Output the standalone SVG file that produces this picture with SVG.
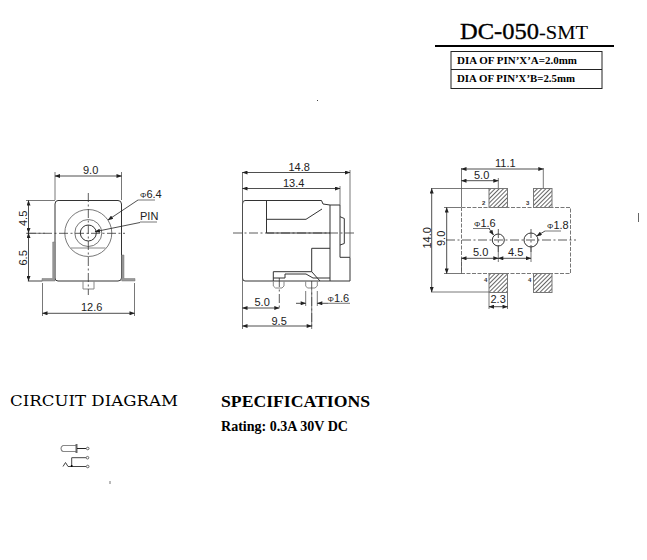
<svg xmlns="http://www.w3.org/2000/svg" width="647" height="560" viewBox="0 0 647 560">
<defs>
<marker id="a" viewBox="0 0 8 6" refX="7.5" refY="3" markerWidth="6" markerHeight="4" orient="auto-start-reverse" markerUnits="userSpaceOnUse"><path d="M0 0L8 3L0 6z" fill="#222"/></marker>
<pattern id="h" width="3" height="3" patternUnits="userSpaceOnUse" patternTransform="rotate(-45)"><rect width="3" height="3" fill="#fff"/><rect width="3" height="1" fill="#666"/></pattern>
</defs>
<style>
.o{fill:none;stroke:#333;stroke-width:1}
.g{fill:none;stroke:#888;stroke-width:1}
.e{fill:none;stroke:#555;stroke-width:.8}
.c{fill:none;stroke:#333;stroke-width:.8;stroke-dasharray:9 2.5 2 2.5}
.d{fill:none;stroke:#222;stroke-width:.8;marker-start:url(#a);marker-end:url(#a)}
.l{fill:none;stroke:#222;stroke-width:.8;marker-end:url(#a)}
.v{fill:none;stroke:#777;stroke-width:1;stroke-dasharray:4 1.500}
.f{fill:#999;stroke:#777;stroke-width:.5}
.t{font-family:"Liberation Sans",Arial,sans-serif;font-size:11px;fill:#222}
.n{font-family:"Liberation Sans",Arial,sans-serif;font-size:6px;font-weight:bold;fill:#333}
.p{font-size:8px}
.s{font-family:"Liberation Serif","Times New Roman",serif;font-weight:bold;fill:#000}
.r{font-family:"Liberation Serif","Times New Roman",serif;fill:#000;stroke:#000;stroke-width:.35}
</style>
<rect width="647" height="560" fill="#fff"/>
<g id="title">
<text class="r" x="460" y="39" font-size="23" textLength="79" lengthAdjust="spacingAndGlyphs">DC-050</text>
<text class="r" x="539" y="39" font-size="18" style="stroke-width:.1" textLength="49" lengthAdjust="spacingAndGlyphs">-SMT</text>
<line x1="435" y1="46" x2="614" y2="46" stroke="#000" stroke-width="2"/>
<rect x="451" y="51.500" width="151" height="37" fill="none" stroke="#222"/>
<line x1="451" y1="69.500" x2="602" y2="69.500" stroke="#222"/>
<text class="s" x="457" y="64" font-size="10.500" textLength="120" lengthAdjust="spacingAndGlyphs">DIA OF PIN’X’A=2.0mm</text>
<text class="s" x="457" y="82" font-size="10.500" textLength="118" lengthAdjust="spacingAndGlyphs">DIA OF PIN’X’B=2.5mm</text>
</g>
<g id="front-view">
<path class="o" d="M55 204Q55 200.500 58 200.500H118Q121.500 200.500 121.500 204V278Q121.500 281 118 281H58Q55 281 55 278Z"/>
<path class="f" d="M42 278.500H52.700V242H55V281H42ZM135 278.500H124V255H121.700V281H135Z"/>
<path class="f" d="M28 280.500H42V281.500H28Z"/>
<circle class="e" cx="88.300" cy="233" r="23.500"/>
<circle class="e" cx="88.300" cy="233" r="13.500"/>
<circle class="o" cx="88.300" cy="233" r="8"/>
<path class="g" d="M71 248H105.500"/>
<path class="g" d="M83 281V289H94V281"/>
<path class="c" d="M88.300 193V295M27 233.300H125"/>
<path class="e" d="M55 200V172M121.500 200V172M26 200.500H55M26 233.300H45M42.500 283V316M134.500 283V316"/>
<path class="d" d="M55 176H121.500"/>
<path class="d" d="M28.500 200.500V233"/>
<path class="d" d="M28.500 233V281"/>
<path class="d" d="M42.500 313.300H134.500"/>
<text class="t" x="83" y="174">9.0</text>
<text class="t" transform="translate(26.500,226) rotate(-90)">4.5</text>
<text class="t" transform="translate(26.500,265.500) rotate(-90)">6.5</text>
<text class="t" x="81" y="311">12.6</text>
<text class="t" x="140" y="198"><tspan class="p">Φ</tspan>6.4</text>
<text class="t" x="140" y="220">PIN</text>
<path class="e" d="M138 200H155"/>
<path class="e" d="M140 222H157"/>
<path class="l" d="M138 200L108 220"/>
<path class="l" d="M140 222.500L95 231.700"/>
</g>
<g id="side-view">
<path class="o" d="M242.500 204Q242.500 200.500 245 200.500H321.500L323 204L330 205V281H245Q242.500 281 242.500 278Z"/>
<path class="o" d="M266.500 200.500V233M266.500 219.300H306L322 209M266.500 233H330"/>
<path class="o" d="M330 205H340V257.300H350V281H330"/>
<path class="o" d="M340 216.700L344.300 218.500V243.500L340 245"/>
<path class="o" d="M311.700 248.300H330M311.700 248.300V271.700L320 281M273.300 271.700H311.700M285 274H306L313 278H330"/>
<path class="o" d="M273.300 271.700V281M273.300 278H285V274"/>
<path class="g" d="M273.300 281V286L275.500 288H282L284 286V281"/>
<path class="g" d="M305.700 281V286L307.500 288H315L317.300 286V281"/>
<path class="c" d="M233 233H355"/>
<path class="c" stroke-dasharray="4 2" d="M279.300 278V309M311.700 281V328"/>
<path class="e" d="M242.500 172V329M340 186V205M350 170V257M311.700 290V329M317.300 291V306M305.700 291V306"/>
<path class="d" d="M242.500 172.500H350"/>
<path class="d" d="M242.500 188.500H340"/>
<path class="d" d="M242.500 308H279.300"/>
<path class="d" d="M242.500 326H311.700"/>
<path class="l" d="M296 303.300H305.700"/>
<path class="l" d="M328 303.300H317.300"/>
<path class="e" d="M328 303.300H350"/>
<text class="t" x="288.500" y="171">14.8</text>
<text class="t" x="283" y="187">13.4</text>
<text class="t" x="254.500" y="305.500">5.0</text>
<text class="t" x="271.500" y="324.500">9.5</text>
<text class="t" x="327.500" y="301.500"><tspan class="p">Φ</tspan>1.6</text>
</g>
<g id="bottom-view">
<rect x="489" y="188.500" width="18.500" height="19" fill="url(#h)" stroke="#777"/>
<rect x="533.500" y="188.500" width="18.500" height="19" fill="url(#h)" stroke="#777"/>
<rect x="489" y="273.500" width="18.500" height="19" fill="url(#h)" stroke="#777"/>
<rect x="533.500" y="273.500" width="18.500" height="19" fill="url(#h)" stroke="#777"/>
<rect class="v" x="461.500" y="207.500" width="109" height="66"/>
<circle class="o" cx="498.300" cy="240" r="6"/>
<circle class="o" cx="531" cy="240" r="7"/>
<path class="c" d="M446 240H576M498.300 229V252M531 229V252"/>
<path class="e" d="M461.500 168V207M498.300 178V188M543.300 168V188M431 188.500H489M431 292H489M444 207.500H461M444 273.500H461M461.500 274V259M498.300 246V262M531 247V262M489 293V309M507.500 293V309M473 228.500H490M545 231H561"/>
<path class="d" d="M461.500 169H543.300"/>
<path class="d" d="M461.500 180.700H498.300"/>
<path class="d" d="M431.700 188.500V292"/>
<path class="d" d="M446.700 207.500V273.500"/>
<path class="d" d="M461.500 258.300H498.300"/>
<path class="d" d="M498.300 258.300H531"/>
<path class="d" d="M489 306.700H507.500"/>
<path class="l" d="M489 228.500L493.500 235"/>
<path class="l" d="M545 231L536.700 236"/>
<text class="t" x="495" y="166.500">11.1</text>
<text class="t" x="474" y="179">5.0</text>
<text class="t" x="474" y="227"><tspan class="p">Φ</tspan>1.6</text>
<text class="t" x="547" y="228.500"><tspan class="p">Φ</tspan>1.8</text>
<text class="t" x="473" y="255.700">5.0</text>
<text class="t" x="508" y="255.700">4.5</text>
<text class="t" x="490.500" y="303.300">2.3</text>
<text class="t" transform="translate(431,248.500) rotate(-90)">14.0</text>
<text class="t" transform="translate(445,246) rotate(-90)">9.0</text>
<text class="n" x="482" y="205">2</text>
<text class="n" x="526" y="205">3</text>
<text class="n" x="484" y="281.500">4</text>
<text class="n" x="528" y="281.500">4</text>
</g>
<g id="texts">
<text x="10" y="405.500" font-family="'DejaVu Serif',serif" font-size="14" fill="#000" textLength="168" lengthAdjust="spacingAndGlyphs">CIRCUIT DIAGRAM</text>
<text class="s" x="221" y="407" font-size="17" textLength="149" lengthAdjust="spacingAndGlyphs">SPECIFICATIONS</text>
<text class="s" x="221" y="431" font-size="14" textLength="127" lengthAdjust="spacingAndGlyphs">Rating: 0.3A 30V DC</text>
</g>
<g id="circuit-symbol">
<path d="M76 445.500H63Q61 446.500 61 448.500T63 451.500H76" fill="#fff" stroke="#888" stroke-width="1.200"/>
<path d="M76.500 444V453" stroke="#666" stroke-width="2"/>
<path d="M77 448.500H86" stroke="#222"/>
<circle cx="87.700" cy="448.500" r="1.300" fill="none" stroke="#666"/>
<path d="M63 466.500L65.500 462.500L68 466.500H86M71.700 466.500V457.700H86" fill="none" stroke="#444"/>
<circle cx="71.700" cy="466" r="1" fill="#000"/>
<circle cx="87.500" cy="457.700" r="1.300" fill="none" stroke="#666"/>
<circle cx="87.700" cy="466.500" r="1.300" fill="none" stroke="#666"/>
</g>
<g id="specks">
<rect x="317" y="100" width="1" height="1" fill="#444"/>
<rect x="638" y="213" width="1" height="9" fill="#666"/>
<path d="M110 481V484" stroke="#777"/>
</g>
</svg>
